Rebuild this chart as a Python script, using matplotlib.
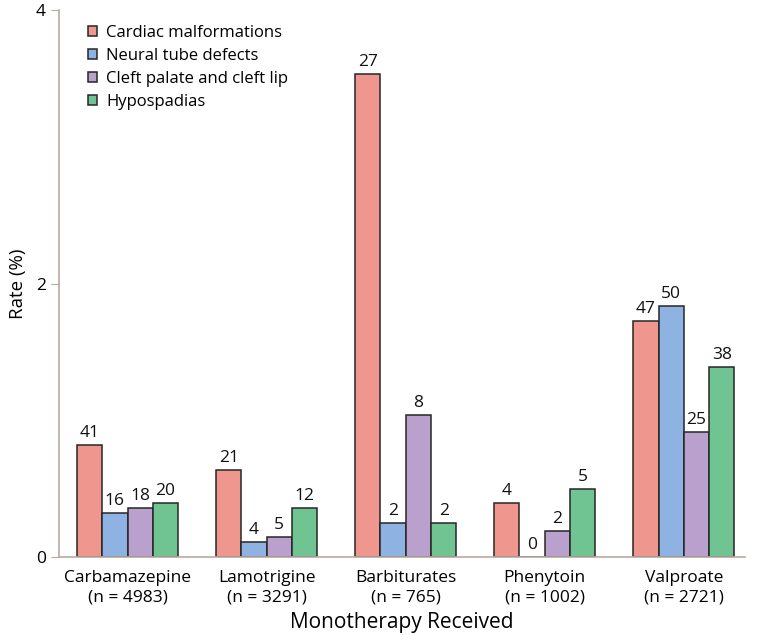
import matplotlib
matplotlib.use("Agg")
import matplotlib.pyplot as plt
import numpy as np

plt.rcParams['font.family'] = ['Open Sans', 'DejaVu Sans']

drugs = ["Carbamazepine\n(n = 4983)", "Lamotrigine\n(n = 3291)", "Barbiturates\n(n = 765)",
         "Phenytoin\n(n = 1002)", "Valproate\n(n = 2721)"]
series_names = ["Cardiac malformations", "Neural tube defects", "Cleft palate and cleft lip", "Hypospadias"]
cardiac = [0.82, 0.635, 3.53, 0.396, 1.723]
neural = [0.32, 0.112, 0.25, 0.0, 1.832]
cleft = [0.356, 0.144, 1.04, 0.192, 0.912]
hypo = [0.396, 0.36, 0.25, 0.496, 1.387]
cardiac_n = [41, 21, 27, 4, 47]
neural_n = [16, 4, 2, 0, 50]
cleft_n = [18, 5, 8, 2, 25]
hypo_n = [20, 12, 2, 5, 38]

values = [cardiac, neural, cleft, hypo]
counts = [cardiac_n, neural_n, cleft_n, hypo_n]
colors = ['#EF968E', '#8EB3E2', '#B9A0CD', '#70C492']

fig = plt.figure(figsize=(7.58, 6.35), dpi=100)
ax = fig.add_axes([59/758, 78/635, (745-59)/758, (557-10)/635])

x = np.arange(len(drugs))
w = 0.182
for i, (vals, cnts, c, name) in enumerate(zip(values, counts, colors, series_names)):
    pos = x + (i - 1.5) * w
    ax.bar(pos, vals, width=w, color=c, edgecolor='#262626', linewidth=1.1, label=name, zorder=2)
    for p, v, n in zip(pos, vals, cnts):
        ax.text(p, v + 0.03, str(n), ha='center', va='bottom', fontsize=12.5, color='#111111', zorder=3)

ax.set_xlim(-0.493, 4.44)
ax.set_ylim(0, 4)
ax.set_yticks([0, 2, 4])
ax.set_xticks(x)
ax.set_xticklabels(drugs, fontsize=12.5, linespacing=1.3)
ax.tick_params(axis='x', length=0, pad=9)
ax.tick_params(axis='y', length=6, color='#b9aaa2', labelsize=12.5)
for s in ['top', 'right']:
    ax.spines[s].set_visible(False)
for s in ['left', 'bottom']:
    ax.spines[s].set_color('#b9aaa2')
    ax.spines[s].set_linewidth(1.2)

ax.set_xlabel("Monotherapy Received", fontsize=15, labelpad=5)
ax.set_ylabel("Rate (%)", fontsize=13.5, labelpad=6)

leg = ax.legend(loc='upper left', bbox_to_anchor=(0.02, 1.0), frameon=False, fontsize=12,
                handlelength=0.55, handleheight=0.55, handletextpad=0.55, labelspacing=0.42)

fig.savefig("out.png", dpi=100)
